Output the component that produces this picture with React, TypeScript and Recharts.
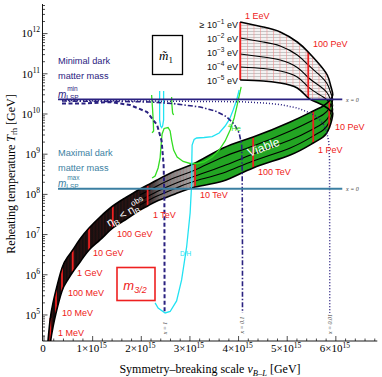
import React from "react";
import { ComposedChart, XAxis, YAxis, Line, Area } from "recharts";

// ---------- axes ----------
const X_DOMAIN: [number, number] = [-0.031, 6.852]; // v_B-L in units of 1e15 GeV
const Y_DOMAIN: [number, number] = [2.25e4, 5.45e12]; // T_rh in GeV
const xTickValues = [0, 1, 2, 3, 4, 5, 6];
const xTickLabels = ["0", "1×10", "2×10", "3×10", "4×10", "5×10", "6×10"];
const xTickExp = "15";
const yTickExps = [5, 6, 7, 8, 9, 10, 11, 12];

// ---------- band: lower branch (x, T at m̃1=1e-5 eV, T at m̃1=0.1 eV) ----------
const lowerBand = [
  { x: 0.082, lo: 4.81e3, hi: 2.25e4 },
  { x: 0.13, lo: 2.01e4, hi: 8.41e4 },
  { x: 0.185, lo: 5.02e4, hi: 1.99e5 },
  { x: 0.247, lo: 1.12e5, hi: 4.19e5 },
  { x: 0.37, lo: 3.95e5, hi: 1.48e6 },
  { x: 0.473, lo: 7.01e5, hi: 2.62e6 },
  { x: 0.591, lo: 1.17e6, hi: 4.14e6 },
  { x: 0.741, lo: 2.08e6, hi: 7.78e6 },
  { x: 0.926, lo: 4.14e6, hi: 1.46e7 },
  { x: 1.152, lo: 7.35e6, hi: 2.74e7 },
  { x: 1.414, lo: 1.46e7, hi: 5.14e7 },
  { x: 1.667, lo: 2.31e7, hi: 8.13e7 },
  { x: 1.975, lo: 4.09e7, hi: 1.36e8 },
  { x: 2.13, lo: 5.14e7, hi: 1.71e8 },
  { x: 2.325, lo: 6.85e7, hi: 2.28e8 },
  { x: 2.695, lo: 1.02e8, hi: 3.82e8 },
  { x: 3.107, lo: 1.53e8, hi: 6.04e8 },
  { x: 3.683, lo: 2.15e8, hi: 1.43e9 },
  { x: 4.3, lo: 4.54e8, hi: 2.68e9 },
  { x: 5.062, lo: 9.55e8, hi: 6.32e9 },
  { x: 5.535, lo: 1.9e9, hi: 1.19e10 },
  { x: 5.741, lo: 2.68e9, hi: 1.58e10 },
  { x: 5.864, lo: 4.49e9, hi: 2.1e10 },
  { x: 5.936, lo: 1.0e10, hi: 2.97e10 },
];
// upper branch (m3/2 above ~30 PeV), x decreasing
const upperBand = [
  { x: 5.936, lo: 1.0e10, hi: 2.97e10 },
  { x: 5.895, lo: 1.19e10, hi: 4.98e10 },
  { x: 5.823, lo: 1.41e10, hi: 9.33e10 },
  { x: 5.638, lo: 1.88e10, hi: 1.86e11 },
  { x: 5.432, lo: 2.5e10, hi: 3.49e11 },
  { x: 5.206, lo: 4.44e10, hi: 6.18e11 },
  { x: 4.856, lo: 5.9e10, hi: 1.1e12 },
  { x: 4.506, lo: 6.62e10, hi: 1.46e12 },
  { x: 4.033, lo: 7.01e10, hi: 1.95e12 },
];
// viable part of the upper branch (below m_LSP^min)
const upperViable = [
  { x: 5.936, lo: 1.0e10, hi: 2.32e10 },
  { x: 5.895, lo: 1.19e10, hi: 2.32e10 },
  { x: 5.823, lo: 1.41e10, hi: 2.32e10 },
  { x: 5.638, lo: 1.88e10, hi: 2.32e10 },
  { x: 5.5, lo: 2.3e10, hi: 2.32e10 },
];
// intermediate m̃1 contours: 1e-2, 1e-3, 1e-4 eV
const midX = [1.975, 2.325, 2.695, 3.107, 3.683, 4.3, 5.062, 5.535, 5.741, 5.864, 5.936, 5.895, 5.823, 5.638, 5.432, 5.206, 4.856, 4.506, 4.033];
const mid2 = [9.66e7, 1.62e8, 2.63e8, 4.05e8, 8.51e8, 1.6e9, 3.78e9, 7.1e9, 9.72e9, 1.37e10, 2.23e10, 3.33e10, 5.57e10, 9.9e10, 1.66e11, 2.94e11, 4.92e11, 6.18e11, 7.78e11];
const mid3 = [7.05e7, 1.18e8, 1.87e8, 2.87e8, 5.08e8, 1.01e9, 2.25e9, 4.24e9, 5.97e9, 8.91e9, 1.63e10, 2.23e10, 3.33e10, 5.26e10, 8.09e10, 1.44e11, 2.2e11, 2.62e11, 3.11e11];
const mid4 = [5.45e7, 9.12e7, 1.4e8, 2.15e8, 3.4e8, 6.78e8, 1.43e9, 2.84e9, 4.0e9, 6.32e9, 1.29e10, 1.67e10, 2.23e10, 3.15e10, 4.7e10, 8.32e10, 1.17e11, 1.36e11, 1.48e11];

// gravitino-mass lines
const m32Names = ["1 MeV", "10 MeV", "100 MeV", "1 GeV", "10 GeV", "100 GeV", "1 TeV", "10 TeV", "100 TeV", "1 PeV", "10 PeV", "100 PeV", "1 EeV"];
const m32X = [0.13, 0.247, 0.37, 0.591, 0.926, 1.414, 2.13, 3.107, 4.3, 5.535, 5.864, 5.432, 4.033];
const m32Lo = [2.01e4, 1.12e5, 3.95e5, 1.17e6, 4.14e6, 1.46e7, 5.14e7, 1.53e8, 4.54e8, 1.9e9, 4.49e9, 2.5e10, 7.01e10];
const m32Hi = [8.41e4, 4.19e5, 1.48e6, 4.14e6, 1.46e7, 5.14e7, 1.71e8, 6.04e8, 2.68e9, 1.19e10, 2.1e10, 3.49e11, 1.95e12];

// LSP mass lines
const T_LSPmin = 2.32e10;
const T_LSPmax = 1.38e8;
const lspX = [0.288, 6.132];

// x = 1, 0.1, 0.01 contours
const xOne = [
  { x: 0.37, T: 1.82e10 }, { x: 0.844, T: 1.82e10 }, { x: 1.358, T: 1.99e10 }, { x: 1.77, T: 1.67e10 },
  { x: 2.119, T: 1.12e10 }, { x: 2.325, T: 5.32e9 }, { x: 2.418, T: 2.13e9 }, { x: 2.459, T: 5.38e8 },
  { x: 2.475, T: 7.26e7 }, { x: 2.479, T: 1.12e5 },
];
const xTenth = [
  { x: 0.37, T: 2.1e10 }, { x: 1.564, T: 2.05e10 }, { x: 2.181, T: 1.99e10 }, { x: 2.654, T: 1.82e10 },
  { x: 3.21, T: 1.49e10 }, { x: 3.519, T: 1.19e10 }, { x: 3.745, T: 8.67e9 }, { x: 3.909, T: 5.64e9 },
  { x: 4.012, T: 3.37e9 }, { x: 4.064, T: 1.69e9 }, { x: 4.074, T: 4.05e8 }, { x: 4.08, T: 4.14e6 }, { x: 4.08, T: 1.12e5 },
];
const xHundredth = [
  { x: 0.37, T: 2.17e10 }, { x: 4.033, T: 2.02e10 }, { x: 4.506, T: 1.88e10 }, { x: 4.856, T: 1.72e10 },
  { x: 5.206, T: 1.41e10 }, { x: 5.473, T: 1.06e10 }, { x: 5.617, T: 8.41e9 }, { x: 5.741, T: 5.64e9 },
  { x: 5.813, T: 3.56e9 }, { x: 5.854, T: 2.01e9 }, { x: 5.87, T: 7.18e8 }, { x: 5.874, T: 4.14e6 }, { x: 5.874, T: 1.12e5 },
];

// D/H constraint (cyan)
const dhMain = [
  { x: 2.284, T: 1.99e5 }, { x: 2.346, T: 1.49e5 }, { x: 2.49, T: 1.12e5 }, { x: 2.593, T: 1.22e5 },
  { x: 2.726, T: 2.23e5 }, { x: 2.829, T: 7.43e5 }, { x: 2.932, T: 4.92e6 }, { x: 3.004, T: 3.44e7 },
  { x: 3.039, T: 2.28e8 }, { x: 3.039, T: 7.18e8 }, { x: 3.045, T: 1.69e9 }, { x: 3.086, T: 2.32e9 },
  { x: 3.138, T: 2.53e9 }, { x: 3.292, T: 2.6e9 }, { x: 3.457, T: 2.75e9 }, { x: 3.601, T: 3.37e9 },
  { x: 3.724, T: 5.02e9 }, { x: 3.817, T: 7.52e9 }, { x: 3.889, T: 1.26e10 }, { x: 3.961, T: 2.23e10 },
  { x: 4.012, T: 3.95e10 },
];
const dhNarrow = [
  { x: 2.377, T: 3.73e10 }, { x: 2.377, T: 7.1e9 }, { x: 2.397, T: 5.02e9 }, { x: 2.418, T: 4.61e9 },
  { x: 2.438, T: 5.02e9 }, { x: 2.459, T: 7.1e9 }, { x: 2.459, T: 3.73e10 },
];

// 4He constraint (green)
const heMain = [
  { x: 2.222, T: 2.56e8 }, { x: 2.284, T: 2.87e8 }, { x: 2.346, T: 4.54e8 }, { x: 2.387, T: 8.04e8 },
  { x: 2.407, T: 1.69e9 }, { x: 2.428, T: 3.18e9 }, { x: 2.469, T: 4.36e9 }, { x: 2.551, T: 4.61e9 },
  { x: 2.593, T: 3.78e9 }, { x: 2.623, T: 2.25e9 }, { x: 2.665, T: 1.27e9 }, { x: 2.737, T: 8.51e8 },
  { x: 2.86, T: 6.58e8 }, { x: 3.004, T: 5.87e8 }, { x: 3.148, T: 5.87e8 }, { x: 3.292, T: 6.39e8 },
  { x: 3.457, T: 8.51e8 }, { x: 3.601, T: 1.27e9 }, { x: 3.724, T: 2.13e9 }, { x: 3.827, T: 4.0e9 },
  { x: 3.909, T: 7.94e9 }, { x: 3.971, T: 1.67e10 }, { x: 4.012, T: 2.81e10 }, { x: 4.053, T: 4.7e10 },
];
const heLeft = [
  { x: 2.212, T: 2.97e10 }, { x: 2.226, T: 1.67e10 }, { x: 2.239, T: 9.44e9 }, { x: 2.249, T: 5.32e9 },
  { x: 2.253, T: 3.78e9 }, { x: 2.222, T: 3.37e9 },
];
const heSpike = [
  { x: 2.623, T: 2.65e10 }, { x: 2.63, T: 1.67e10 }, { x: 2.644, T: 1.06e10 }, { x: 2.665, T: 9.44e9 },
];

// ---------- derived series ----------
type BandPt = { x: number; lo: number; hi: number };
const toRange = (a: BandPt[]) => a.map((d) => ({ x: d.x, range: [d.lo, d.hi] }));
const fullBand = [...lowerBand, ...upperBand.slice(1)];
const topEdge = fullBand.map((d) => ({ x: d.x, T: d.hi }));
const bottomEdge = fullBand.map((d) => ({ x: d.x, T: d.lo }));
const excludedBand = lowerBand.filter((d) => d.x <= 3.107);
const midLines = [mid2, mid3, mid4].map((arr) => arr.map((T, i) => ({ x: midX[i], T })));
const m32Lines = m32X.map((x, i) => [{ x, T: m32Lo[i] }, { x, T: m32Hi[i] }]);
const lspMinLine = lspX.map((x) => ({ x, T: T_LSPmin }));
const lspMaxLine = lspX.map((x) => ({ x, T: T_LSPmax }));

const xTicksAll: number[] = [];
for (let i = 0; i <= 34; i++) xTicksAll.push(Math.round(i * 2) / 10);
const yTicksAll: number[] = [];
for (let e = 4; e <= 12; e++) for (let k = 1; k <= 9; k++) {
  const v = k * Math.pow(10, e);
  if (v >= Y_DOMAIN[0] && v <= Y_DOMAIN[1]) yTicksAll.push(v);
}

const SERIF = "'Liberation Serif', 'Times New Roman', serif";
const SANS = "'Liberation Sans', Arial, sans-serif";
const RED = "#ee2020";
const NAVY = "#2a2180";
const TEAL = "#3b7fa2";
const CYAN = "#22e2f2";
const GREEN = "#33dd22";

const isMajorX = (v: number) => Math.abs(v - Math.round(v)) < 1e-6;
const isMajorY = (v: number) => { const e = Math.log10(v); return Math.abs(e - Math.round(e)) < 1e-6; };

const BottomTick = (p: any) => {
  const { x, y, payload } = p;
  const v = payload.value;
  const major = isMajorX(v);
  const idx = xTickValues.indexOf(Math.round(v));
  return (
    <g>
      <line x1={x} x2={x} y1={y} y2={y - (major ? 5 : 2.5)} stroke="#000" strokeWidth={0.7} />
      {major && idx >= 0 && (
        <text x={x - 1} y={y + 11} textAnchor="middle" fontFamily={SERIF} fontSize={11} fill="#000">
          {xTickLabels[idx]}
          {idx > 0 && <tspan dy={-4.5} fontSize={7.5}>{xTickExp}</tspan>}
        </text>
      )}
    </g>
  );
};
const TopTick = (p: any) => {
  const { x, y, payload } = p;
  const major = isMajorX(payload.value);
  return <line x1={x} x2={x} y1={y} y2={y + (major ? 5 : 2.5)} stroke="#000" strokeWidth={0.7} />;
};
const LeftTick = (p: any) => {
  const { x, y, payload } = p;
  const v = payload.value;
  const major = isMajorY(v);
  const e = Math.round(Math.log10(v));
  return (
    <g>
      <line x1={x} x2={x + (major ? 5 : 2.5)} y1={y} y2={y} stroke="#000" strokeWidth={0.7} />
      {major && yTickExps.includes(e) && (
        <text x={x - 2.5} y={y + 3.8} textAnchor="end" fontFamily={SERIF} fontSize={11} fill="#000">
          10<tspan dy={-5} fontSize={7.5}>{e}</tspan>
        </text>
      )}
    </g>
  );
};
const RightTick = (p: any) => {
  const { x, y, payload } = p;
  const major = isMajorY(payload.value);
  return <line x1={x} x2={x - (major ? 5 : 2.5)} y1={y} y2={y} stroke="#000" strokeWidth={0.7} />;
};

// label layout (pixel positions of annotations)
const m32LabelPos = [
  [58, 336], [62, 316], [68, 296], [77, 276], [93, 256], [117, 237], [153, 218], [200, 198],
  [258, 175], [318, 153], [335, 130], [313, 47], [245, 19],
];
const mtLevels = ["−1", "−2", "−3", "−4", "−5"];
const mtLabelY = [28, 42, 56, 70, 84];

const lineCommon = { dot: false, activeDot: false, isAnimationActive: false, legendType: "none" as const };

export default function App() {
  return (
    <div style={{ position: "absolute", left: 0, top: 0, width: 382, height: 377, background: "#fff" }}>
      <ComposedChart width={382} height={377} margin={{ top: 4, right: 4.7, bottom: 0, left: 0 }}>
        <XAxis type="number" dataKey="x" domain={X_DOMAIN} allowDataOverflow ticks={xTicksAll} interval={0}
          tick={BottomTick} tickLine={false} tickSize={0} tickMargin={0} height={36} axisLine={{ stroke: "#000", strokeWidth: 0.9 }} />
        <XAxis xAxisId="top" orientation="top" type="number" dataKey="x" domain={X_DOMAIN} allowDataOverflow ticks={xTicksAll} interval={0}
          tick={TopTick} tickLine={false} tickSize={0} tickMargin={0} height={0} axisLine={{ stroke: "#000", strokeWidth: 0.9 }} />
        <YAxis type="number" scale="log" domain={Y_DOMAIN} allowDataOverflow ticks={yTicksAll} interval={0}
          tick={LeftTick} tickLine={false} tickSize={0} tickMargin={0} width={42.5} axisLine={{ stroke: "#000", strokeWidth: 0.9 }} />
        <YAxis yAxisId="right" orientation="right" type="number" scale="log" domain={Y_DOMAIN} allowDataOverflow ticks={yTicksAll} interval={0}
          tick={RightTick} tickLine={false} tickSize={0} tickMargin={0} width={0} axisLine={{ stroke: "#000", strokeWidth: 0.9 }} />

        <Area data={toRange(lowerBand)} dataKey="range" type="natural" stroke="none" fill="url(#lowerFill)" fillOpacity={1} isAnimationActive={false} activeDot={false} />
        <Area data={toRange(excludedBand)} dataKey="range" type="natural" stroke="none" fill="url(#redStripes)" fillOpacity={1} isAnimationActive={false} activeDot={false} />
        <Area data={toRange(upperBand)} dataKey="range" type="natural" stroke="none" fill="url(#upperHatch)" fillOpacity={1} isAnimationActive={false} activeDot={false} />
        <Area data={toRange(upperViable)} dataKey="range" type="linear" stroke="none" fill="#23a523" fillOpacity={1} isAnimationActive={false} activeDot={false} />

        {midLines.map((d, i) => (
          <Line key={"mid" + i} data={d} dataKey="T" type="natural" stroke="#000" strokeWidth={1.1} {...lineCommon} />
        ))}
        {m32Lines.map((d, i) => (
          <Line key={"m32" + i} data={d} dataKey="T" type="linear" stroke={RED} strokeWidth={1.8} {...lineCommon} />
        ))}
        <Line data={topEdge} dataKey="T" type="natural" stroke="#000" strokeWidth={1.6} {...lineCommon} />
        <Line data={bottomEdge} dataKey="T" type="natural" stroke="#000" strokeWidth={1.6} {...lineCommon} />

        <Line data={heMain} dataKey="T" type="linear" stroke={GREEN} strokeWidth={1.3} {...lineCommon} />
        <Line data={heLeft} dataKey="T" type="linear" stroke={GREEN} strokeWidth={1.3} {...lineCommon} />
        <Line data={heSpike} dataKey="T" type="linear" stroke={GREEN} strokeWidth={1.3} {...lineCommon} />
        <Line data={dhMain} dataKey="T" type="linear" stroke={CYAN} strokeWidth={1.3} {...lineCommon} />
        <Line data={dhNarrow} dataKey="T" type="linear" stroke={CYAN} strokeWidth={1.3} {...lineCommon} />

        <Line data={xHundredth} dataKey="T" type="linear" stroke={NAVY} strokeWidth={1.5} strokeDasharray="1 2" {...lineCommon} />
        <Line data={xTenth} dataKey="T" type="linear" stroke={NAVY} strokeWidth={1.6} strokeDasharray="5 2 1.5 2" {...lineCommon} />
        <Line data={xOne} dataKey="T" type="linear" stroke={NAVY} strokeWidth={2} strokeDasharray="4 2.5" {...lineCommon} />

        <Line data={lspMinLine} dataKey="T" type="linear" stroke={NAVY} strokeWidth={1.8} {...lineCommon} />
        <Line data={lspMaxLine} dataKey="T" type="linear" stroke={TEAL} strokeWidth={1.8} {...lineCommon} />
      </ComposedChart>

      <svg width={382} height={377} style={{ position: "absolute", left: 0, top: 0, pointerEvents: "none" }}>
        <defs>
          <linearGradient id="lowerFill" gradientUnits="userSpaceOnUse" x1={0} y1={0} x2={382} y2={0}>
            <stop offset="0" stopColor="#120b0b" />
            <stop offset="0.38" stopColor="#1a1212" />
            <stop offset="0.42" stopColor="#727272" />
            <stop offset="0.507" stopColor="#a8a8a8" />
            <stop offset="0.508" stopColor="#23a523" />
            <stop offset="1" stopColor="#23a523" />
          </linearGradient>
          <pattern id="redStripes" patternUnits="userSpaceOnUse" width={3.2} height={4}>
            <line x1={1} x2={1} y1={0} y2={4} stroke="#c01818" strokeOpacity={0.3} strokeWidth={0.6} />
          </pattern>
          <pattern id="upperHatch" patternUnits="userSpaceOnUse" width={6.5} height={3}>
            <rect width={6.5} height={3} fill="#f4f2f2" />
            <line x1={0} x2={6.5} y1={1.5} y2={1.5} stroke="#9a9a9a" strokeWidth={0.5} />
            <line x1={0.5} x2={0.5} y1={0} y2={3} stroke="#f08a8a" strokeWidth={0.6} />
          </pattern>
        </defs>

        {/* axis titles */}
        <text x={210} y={373} textAnchor="middle" fontFamily={SERIF} fontSize={12} fill="#000">
          Symmetry–breaking scale <tspan fontStyle="italic">v</tspan>
          <tspan dy={2.5} fontSize={8.5} fontStyle="italic">B–L</tspan>
          <tspan dy={-2.5}> [GeV]</tspan>
        </text>
        <text transform="translate(14.5,174) rotate(-90)" textAnchor="middle" fontFamily={SERIF} fontSize={12} fill="#000">
          Reheating temperature <tspan fontStyle="italic">T</tspan>
          <tspan dy={2.5} fontSize={8.5}>rh</tspan>
          <tspan dy={-2.5}> [GeV]</tspan>
        </text>

        {/* LSP annotations */}
        <g fontFamily={SANS} fontSize={9.2} fill={NAVY}>
          <text x={58} y={63.5}>Minimal dark</text>
          <text x={58} y={78.5}>matter mass</text>
          <text x={58} y={97.5}>
            <tspan fontStyle="italic" fontSize={10}>m</tspan>
            <tspan dy={2.5} fontSize={6.5}>LSP</tspan>
            <tspan dx={-11.5} dy={-9} fontSize={6.5}>min</tspan>
          </text>
        </g>
        <g fontFamily={SANS} fontSize={9.2} fill={TEAL}>
          <text x={58} y={155.5}>Maximal dark</text>
          <text x={58} y={170.5}>matter mass</text>
          <text x={58} y={186.5}>
            <tspan fontStyle="italic" fontSize={10}>m</tspan>
            <tspan dy={2.5} fontSize={6.5}>LSP</tspan>
            <tspan dx={-11.5} dy={-9} fontSize={6.5}>max</tspan>
          </text>
        </g>
        <g fontFamily={SERIF} fontStyle="italic" fontSize={6} fill="#444">
          <text x={346} y={102}>x = 0</text>
          <text x={346} y={191}>x = 0</text>
          <text transform="translate(167,328) rotate(-90)" textAnchor="middle">x = 1</text>
          <text transform="translate(244,325) rotate(-90)" textAnchor="middle">x = 0.1</text>
          <text transform="translate(331.5,324) rotate(-90)" textAnchor="middle">x = 0.01</text>
        </g>

        {/* gravitino mass labels */}
        <g fontFamily={SANS} fontSize={9} fill={RED}>
          {m32Names.map((t, i) => (
            <text key={t} x={m32LabelPos[i][0]} y={m32LabelPos[i][1]}>{t}</text>
          ))}
        </g>

        {/* m̃1 level labels */}
        <g fontFamily={SANS} fontSize={9} fill="#111">
          {mtLevels.map((e, i) => (
            <text key={e} x={238} y={mtLabelY[i]} textAnchor="end">
              {i === 0 ? "≥ 10" : "10"}
              <tspan dy={-4} fontSize={6.5}>{e}</tspan>
              <tspan dy={4}> eV</tspan>
            </text>
          ))}
        </g>

        {/* boxes */}
        <rect x={152.5} y={35.5} width={30} height={39} fill="#fff" stroke="#000" strokeWidth={1.3} />
        <text x={166} y={60} textAnchor="middle" fontFamily={SERIF} fontSize={13} fill="#000">
          <tspan fontStyle="italic">m̃</tspan>
          <tspan dy={2.5} fontSize={9}>1</tspan>
        </text>
        <rect x={117} y={267.5} width={38} height={33} fill="#fff" stroke={RED} strokeWidth={1.6} />
        <text x={135} y={290} textAnchor="middle" fontFamily={SANS} fontSize={13} fill={RED}>
          <tspan fontStyle="italic">m</tspan>
          <tspan dy={3} fontSize={9} fontStyle="italic">3/2</tspan>
        </text>

        {/* constraint labels */}
        <text x={228} y={131} fontFamily={SANS} fontSize={7.5} fill={GREEN}>
          <tspan dy={-3} fontSize={6}>4</tspan>
          <tspan dy={3}>He</tspan>
        </text>
        <text x={180} y={255.5} fontFamily={SANS} fontSize={6.5} fill={CYAN}>D/H</text>

        {/* region labels */}
        <text transform="translate(265,151) rotate(-21)" textAnchor="middle" fontFamily={SANS} fontSize={12} fill="#fff">Viable</text>
        <text transform="translate(128,216) rotate(-30)" textAnchor="middle" fontFamily={SANS} fontSize={11} fill="#fff">
          η<tspan dy={3} fontSize={8}>B</tspan>
          <tspan dy={-3}> &lt; η</tspan>
          <tspan dy={3} fontSize={8}>B</tspan>
          <tspan dx={-5} dy={-9} fontSize={8}>obs</tspan>
        </text>
      </svg>
    </div>
  );
}
